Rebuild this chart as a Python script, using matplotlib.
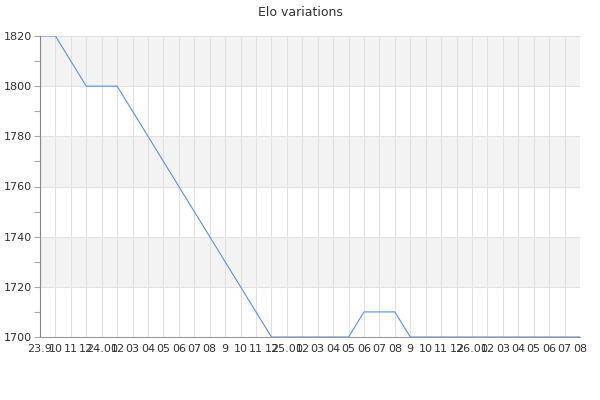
import matplotlib
matplotlib.use("Agg")
import matplotlib.pyplot as plt
from matplotlib.ticker import MultipleLocator
import numpy as np

labels = ["23.9", "10", "11", "12",
          "24.01", "02", "03", "04", "05", "06", "07", "08", "9", "10", "11", "12",
          "25.01", "02", "03", "04", "05", "06", "07", "08", "9", "10", "11", "12",
          "26.01", "02", "03", "04", "05", "06", "07", "08"]

# None = no rating that month, line joins across the gap
elo = [1820, 1820, None, 1800, 1800, 1800, None, None, None, None,
       None, None, None, None, None, 1700, 1700, 1700, 1700, 1700,
       1700, 1710, 1710, 1710, 1700, 1700, 1700, 1700, 1700, 1700,
       1700, 1700, 1700, 1700, 1700, 1700]

y_min, y_max = 1700, 1820


def main():
    fig = plt.figure(figsize=(6, 4), dpi=100)
    ax = fig.add_axes([40 / 600, 63 / 400, 540 / 600, 301 / 400])

    x = np.arange(len(labels))
    vals = np.array([np.nan if v is None else v for v in elo], dtype=float)
    ok = ~np.isnan(vals)

    # alternating bands
    for i, lo in enumerate(range(y_min, y_max, 20)):
        if i % 2 == 1:
            ax.axhspan(lo, lo + 20, color="#f3f3f3", zorder=0, lw=0)

    ax.plot(x[ok], vals[ok], color="#5b8ff0", lw=0.8, zorder=3)

    ax.set_xlim(0, len(labels) - 1)
    ax.set_ylim(y_min, y_max)
    ax.set_xticks(x)
    ax.set_xticklabels(labels)
    ax.yaxis.set_major_locator(MultipleLocator(20))
    ax.yaxis.set_minor_locator(MultipleLocator(10))

    ax.grid(True, which="major", color="#e2e2e2", lw=0.8, zorder=1)
    ax.set_axisbelow(True)

    for s in ["top", "right"]:
        ax.spines[s].set_visible(False)
    ax.spines["left"].set_color("#888888")
    ax.spines["bottom"].set_color("#999999")
    ax.spines["left"].set_linewidth(0.8)
    ax.spines["bottom"].set_linewidth(0.8)

    ax.tick_params(axis="x", length=0, pad=5, labelsize=8, colors="#333333")
    ax.tick_params(axis="y", which="major", length=4, width=0.8,
                   color="#aaaaaa", labelsize=8, labelcolor="#333333", pad=2)
    ax.tick_params(axis="y", which="minor", length=4, width=0.8, color="#aaaaaa")

    fig.text(0.5, 1 - 12 / 400, "Elo variations", ha="center", va="center",
             fontsize=9, color="#333333")

    fig.savefig("out.png", dpi=100)


if __name__ == "__main__":
    main()
